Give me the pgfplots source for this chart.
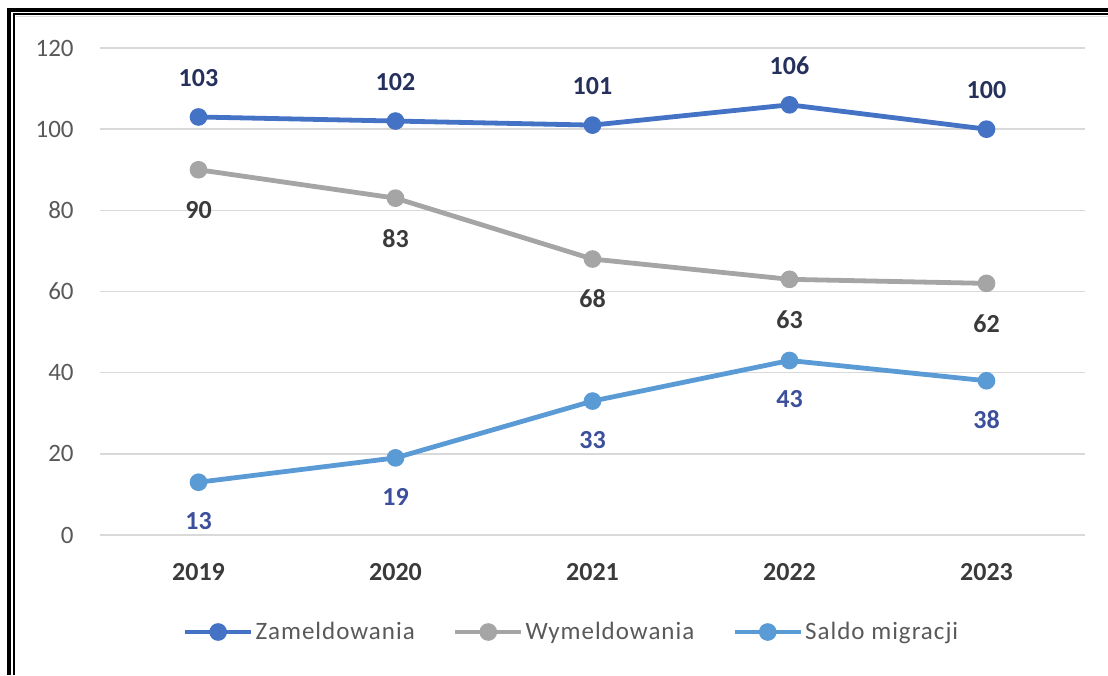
\documentclass[border=0pt]{standalone}
\usepackage{fontspec}
\setmainfont{Carlito}
\newfontfamily\legfont[LetterSpace=4]{Carlito}
\usepackage{pgfplots}
\pgfplotsset{compat=1.18}

\definecolor{zam}{HTML}{4472C4}
\definecolor{wym}{HTML}{A5A5A5}
\definecolor{sal}{HTML}{5B9BD5}
\definecolor{gridc}{HTML}{D9D9D9}
\definecolor{txt}{HTML}{595959}
\definecolor{lblzam}{HTML}{26305C}
\definecolor{lblwym}{HTML}{3A3A3A}
\definecolor{lblsal}{HTML}{3C4F9C}

\begin{document}
\begin{tikzpicture}
  \useasboundingbox (-50pt,-70pt) rectangle (504pt,267.5pt);
  % double frame (left and top)
  \draw[line width=2pt] (-45.25pt,-70pt) -- (-45.25pt,262.5pt) -- (504pt,262.5pt);
  \draw[line width=1pt] (-43.15pt,-70pt) -- (-43.15pt,260.65pt) -- (504pt,260.65pt);
  \draw[line width=0.6pt, gray!25] (-42pt,259.3pt) -- (504pt,259.3pt);

  \begin{axis}[
    at={(0,0)}, anchor=south west,
    scale only axis,
    width=492.5pt, height=243.5pt,
    xmin=-0.5, xmax=4.5,
    ymin=0, ymax=120,
    xtick={0,1,2,3,4},
    xticklabels={2019,2020,2021,2022,2023},
    ytick={0,20,...,120},
    ymajorgrids=true,
    grid style={gridc, line width=0.75pt},
    axis line style={draw=none},
    major tick length=0pt,
    /pgf/number format/assume math mode=true,
    tick label style={font=\fontsize{12.5}{15}\selectfont, text=txt},
    xticklabel style={font=\fontsize{13}{15}\selectfont\bfseries, text=lblwym,
      anchor=center, yshift=-18.5pt, inner sep=0pt},
    yticklabel style={anchor=east, xshift=-13pt, inner sep=0pt},
    legend columns=3,
    legend style={at={(axis description cs:0.5,0)}, anchor=center,
      xshift=-10.5pt, yshift=-48.5pt, draw=none, fill=none,
      font=\legfont\fontsize{12.5}{15}\selectfont, text=txt,
      nodes={inner sep=1pt},
      /tikz/every even column/.append style={column sep=18pt}},
    legend cell align=left,
    legend image code/.code={
      \draw[#1, mark repeat=2, mark phase=2]
        plot coordinates {(0pt,0pt) (16.5pt,0pt) (33pt,0pt)};},
    nodes near coords,
    every node near coord/.append style={font=\fontsize{13}{15}\selectfont\bfseries,
      anchor=center},
    clip=false,
  ]
    \addplot[zam, line width=2.4pt, mark=*, mark size=3.2pt,
      every node near coord/.append style={yshift=19.5pt, text=lblzam}]
      coordinates {(0,103) (1,102) (2,101) (3,106) (4,100)};
    \addplot[wym, line width=2.4pt, mark=*, mark size=3.2pt,
      every node near coord/.append style={yshift=-20pt, text=lblwym}]
      coordinates {(0,90) (1,83) (2,68) (3,63) (4,62)};
    \addplot[sal, line width=2.4pt, mark=*, mark size=3.2pt,
      every node near coord/.append style={yshift=-19.5pt, text=lblsal}]
      coordinates {(0,13) (1,19) (2,33) (3,43) (4,38)};
    \legend{Zameldowania, Wymeldowania, Saldo migracji}
  \end{axis}
\end{tikzpicture}
\end{document}
